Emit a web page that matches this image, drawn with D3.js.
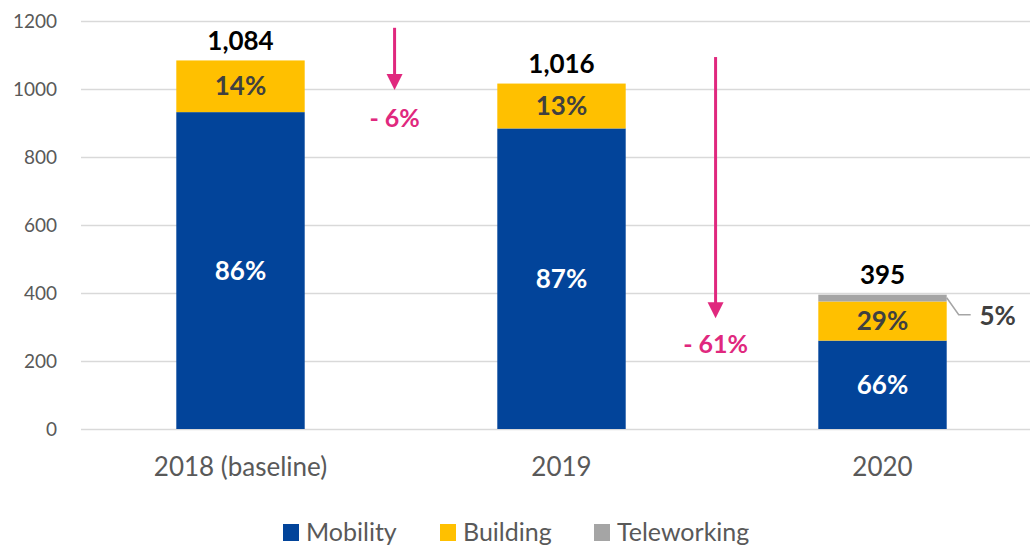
<!DOCTYPE html>
<html><head><meta charset="utf-8">
<script src="https://cdn.jsdelivr.net/npm/d3@7"></script>
<style>body{margin:0;background:#fff}svg{display:block}</style>
</head><body>
<svg id="c" width="1030" height="547"></svg>
<script>
const categories = ["2018 (baseline)", "2019", "2020"];
const mobility = [932, 884, 260];
const building = [152, 132, 115];
const teleworking = [0, 0, 20];
const totals = ["1,084", "1,016", "395"];
const mobilityPct = ["86%", "87%", "66%"];
const buildingPct = ["14%", "13%", "29%"];
const teleworkingPct = ["", "", "5%"];
const yTicks = [0, 200, 400, 600, 800, 1000, 1200];
const seriesNames = ["Mobility", "Building", "Teleworking"];
const colors = ["#02449A", "#FFC000", "#A5A5A5"];
// change annotations: position between categories, from value, to value, label, label value
const changes = [
  {x: 0.48, from: 1180, to: 997, label: "- 6%", ly: 915},
  {x: 1.48, from: 1094, to: 326, label: "- 61%", ly: 250}
];

const svg = d3.select("#c");
const font = "Lato, 'Open Sans', sans-serif";
const y = d3.scaleLinear().domain([0, 1200]).range([429, 21]);
const x = d3.scaleBand().domain(categories).range([80, 1043]).padding(0);
const bw = x.bandwidth() * 0.4;
const cx = c => x(c) + x.bandwidth() / 2;

// gridlines
svg.append("g").selectAll("line").data(yTicks).join("line")
  .attr("x1", 81).attr("x2", 1030)
  .attr("y1", d => Math.round(y(d)) + 0.5).attr("y2", d => Math.round(y(d)) + 0.5)
  .attr("stroke", "#D9D9D9").attr("stroke-width", 1.3);

// y axis labels
const yAxis = d3.axisLeft(y).tickValues(yTicks).tickSize(0).tickPadding(0).tickFormat(d3.format("d"));
const ya = svg.append("g").attr("transform", "translate(57,0)").call(yAxis);
ya.select(".domain").remove();
ya.selectAll("text").attr("font-family", font).attr("font-size", 19).attr("fill", "#595959").attr("dy", "0.35em");

// stacked data
const rows = categories.map((c, i) => ({cat: c, Mobility: mobility[i], Building: building[i], Teleworking: teleworking[i]}));
const stack = d3.stack().keys(seriesNames)(rows);
svg.append("g").selectAll("g").data(stack).join("g")
  .attr("fill", (d, i) => colors[i])
  .selectAll("rect").data(d => d).join("rect")
  .attr("x", d => cx(d.data.cat) - bw / 2)
  .attr("width", bw)
  .attr("y", d => y(d[1]))
  .attr("height", d => y(d[0]) - y(d[1]));

// category labels
const xa = svg.append("g").attr("transform", "translate(0,429)")
  .call(d3.axisBottom(x).tickSize(0).tickPadding(0));
xa.select(".domain").remove();
xa.selectAll("text").attr("font-family", font).attr("font-size", 26).attr("fill", "#595959")
  .attr("y", 38).attr("dy", "0.35em");

// segment labels
const g = svg.append("g").attr("font-family", font).attr("font-weight", "bold").attr("text-anchor", "middle");
categories.forEach((c, i) => {
  g.append("text").attr("x", cx(c)).attr("y", y(mobility[i] / 2)).attr("dy", "0.35em")
    .attr("font-size", 26).attr("fill", "#FFFFFF").text(mobilityPct[i]);
  g.append("text").attr("x", cx(c)).attr("y", y(mobility[i] + building[i] / 2)).attr("dy", "0.35em")
    .attr("font-size", 26).attr("fill", "#404040").text(buildingPct[i]);
  const tot = mobility[i] + building[i] + teleworking[i];
  g.append("text").attr("x", cx(c)).attr("y", y(tot) - 20).attr("dy", "0.35em")
    .attr("font-size", 26).attr("fill", "#000000").text(totals[i]);
  if (teleworkingPct[i]) {
    const xr = cx(c) + bw / 2;
    const yt = y(tot);
    svg.append("polyline")
      .attr("points", `${xr},${yt + 3} ${xr + 12},${yt + 20} ${xr + 24},${yt + 20}`)
      .attr("fill", "none").attr("stroke", "#A5A5A5").attr("stroke-width", 1.5);
    g.append("text").attr("x", xr + 51).attr("y", yt + 21).attr("dy", "0.35em")
      .attr("font-size", 26).attr("fill", "#404040").text(teleworkingPct[i]);
  }
});

// change arrows
const pink = "#E0287E";
changes.forEach(ch => {
  const xx = x(categories[0]) + x.bandwidth() * (ch.x + 0.5);
  const y0 = y(ch.from), y1 = y(ch.to);
  svg.append("line").attr("x1", xx).attr("x2", xx).attr("y1", y0).attr("y2", y1 - 14)
    .attr("stroke", pink).attr("stroke-width", 3);
  svg.append("path").attr("d", `M${xx - 8},${y1 - 16} L${xx + 8},${y1 - 16} L${xx},${y1} Z`).attr("fill", pink);
  svg.append("text").attr("x", xx).attr("y", y(ch.ly)).attr("dy", "0.35em")
    .attr("text-anchor", "middle").attr("font-family", font).attr("font-weight", "bold")
    .attr("font-size", 25).attr("fill", pink).attr("xml:space", "preserve").text(ch.label);
});

// legend
const legX = [283, 440, 594];
const lg = svg.append("g");
seriesNames.forEach((s, i) => {
  lg.append("rect").attr("x", legX[i]).attr("y", 524).attr("width", 16).attr("height", 17).attr("fill", colors[i]);
  lg.append("text").attr("x", legX[i] + 23).attr("y", 532).attr("dy", "0.35em")
    .attr("font-family", font).attr("font-size", 25).attr("fill", "#595959").text(s);
});
</script>
</body></html>
